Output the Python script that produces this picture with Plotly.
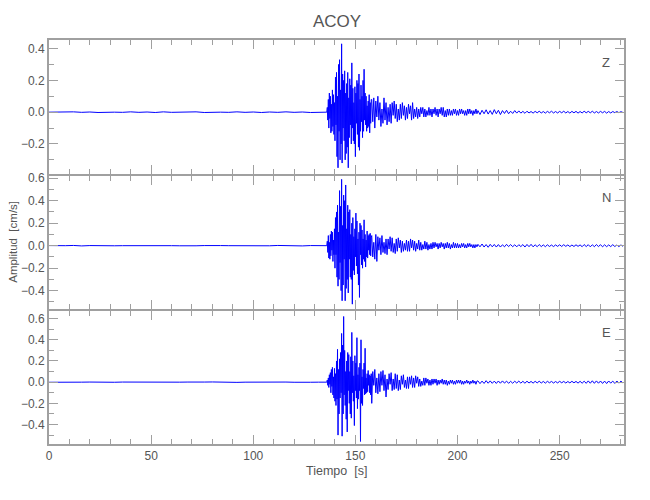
import numpy as np
import plotly.graph_objects as go

# ---------------- data ----------------
station = "ACOY"
components = ["Z", "N", "E"]

t_pre = np.arange(0, 136, 4.0)
t_a = np.arange(136, 158, 0.25)
t_b = np.arange(158, 210, 0.5)
t_c = np.arange(210, 282, 1.0)

# ---- Z component [cm/s]
Z_pre = [0.000, 0.001, -0.001, 0.002, -0.001, 0.001, -0.002, 0.001, 0.000, -0.001,
         0.002, -0.001, 0.001, -0.002, 0.002, -0.001, 0.001, -0.001, 0.002, -0.002,
         0.001, 0.000, -0.001, 0.002, -0.001, 0.001, -0.002, 0.001, -0.001, 0.002,
         -0.001, 0.001, -0.002, 0.001]
Z_a = [0.00, 0.03, -0.05, 0.08,
       -0.10, 0.12, -0.04, 0.10,
       -0.13, 0.05, -0.12, 0.14,
       -0.09, 0.11, -0.14, 0.06,
       -0.18, 0.22, -0.08, 0.25,
       -0.28, 0.10, -0.35, 0.30,
       -0.12, 0.33, -0.30, 0.14,
       -0.20, 0.43, -0.32, 0.24,
       -0.10, 0.20, -0.18, 0.26,
       -0.30, 0.12, -0.26, 0.18,
       -0.22, 0.25, -0.35, 0.09,
       -0.16, 0.21, -0.08, 0.17,
       -0.20, 0.31, -0.10, 0.15,
       -0.18, 0.06, -0.20, 0.16,
       -0.28, 0.12, -0.07, 0.20,
       -0.14, 0.18, -0.22, 0.24,
       -0.24, 0.08, -0.12, 0.17,
       -0.06, 0.10, -0.16, 0.20,
       -0.12, 0.27, -0.05, 0.12,
       -0.08, 0.10, -0.12, 0.04,
       -0.10, 0.07, -0.09, 0.11,
       -0.13, 0.06, -0.07, 0.08]
Z_b = [0.08, -0.06, 0.09, -0.10,
       0.07, -0.03, 0.10, -0.05,
       0.06, -0.09, 0.02, -0.07,
       0.09, -0.05, 0.06, -0.08,
       0.03, -0.06, 0.05, -0.07,
       0.06, -0.02, 0.07, -0.04,
       0.05, -0.06, 0.02, -0.05,
       0.05, -0.04, 0.06, -0.02,
       0.04, -0.05, 0.03, -0.04,
       0.05, -0.01, 0.04, -0.05,
       0.06, -0.04, 0.02, -0.03,
       0.03, -0.04, 0.02, -0.03,
       0.03, -0.01, 0.03, -0.03,
       0.02, -0.03, 0.01, -0.02,
       0.03, -0.02, 0.02, -0.03,
       0.02, -0.01, 0.03, -0.02,
       0.02, -0.03, 0.02, -0.01,
       0.03, -0.02, 0.03, -0.03,
       0.01, -0.03, 0.02, -0.02,
       0.02, -0.02, 0.01, -0.02,
       0.02, -0.01, 0.02, -0.02,
       0.01, -0.02, 0.02, -0.01,
       0.02, -0.01, 0.01, -0.02,
       0.01, -0.02, 0.02, -0.01,
       0.02, -0.01, 0.01, -0.02,
       0.01, -0.01, 0.02, -0.01]
Z_c = [0.010, -0.015, 0.012, -0.010, 0.015, -0.012, 0.010, -0.014, 0.016, -0.010,
       0.012, -0.015, 0.010, -0.008, 0.012, -0.010, 0.006, -0.008, 0.010, -0.006,
       0.008, -0.006, 0.005, -0.007, 0.006, -0.005, 0.004, -0.006, 0.005, -0.004,
       0.006, -0.005, 0.004, -0.006, 0.005, -0.004, 0.006, -0.005, 0.004, -0.005,
       0.005, -0.004, 0.006, -0.005, 0.004, -0.006, 0.005, -0.004, 0.005, -0.006,
       0.004, -0.005, 0.006, -0.004, 0.005, -0.004, 0.006, -0.005, 0.004, -0.005,
       0.005, -0.004, 0.005, -0.006, 0.004, -0.005, 0.004, -0.003, 0.004, -0.003,
       0.003, -0.002]

# ---- N component [cm/s]
N_pre = [0.001, -0.001, 0.000, 0.002, -0.002, 0.001, -0.001, 0.002, -0.001, 0.000,
         0.001, -0.002, 0.002, -0.001, 0.001, 0.000, -0.001, 0.002, -0.001, 0.001,
         -0.002, 0.001, 0.000, -0.001, 0.002, -0.002, 0.001, -0.001, 0.002, -0.001,
         0.001, -0.002, 0.001, 0.000]
N_a = [0.00, 0.04, -0.06, 0.09,
       -0.11, 0.03, -0.12, 0.10,
       -0.09, 0.13, -0.04, 0.12,
       -0.14, 0.05, -0.08, 0.15,
       -0.20, 0.25, -0.08, 0.30,
       -0.28, 0.36, -0.36, 0.12,
       -0.30, 0.49, -0.15, 0.35,
       -0.40, 0.59, -0.49, 0.18,
       -0.35, 0.45, -0.12, 0.40,
       -0.49, 0.54, -0.38, 0.15,
       -0.30, 0.36, -0.42, 0.30,
       -0.12, 0.32, -0.28, 0.10,
       -0.30, 0.20, -0.52, 0.25,
       -0.22, 0.08, -0.26, 0.15,
       -0.10, 0.29, -0.18, 0.22,
       -0.25, 0.06, -0.35, 0.12,
       -0.46, 0.20, -0.08, 0.18,
       -0.17, 0.14, -0.20, 0.06,
       -0.12, 0.23, -0.14, 0.10,
       -0.19, 0.05, -0.10, 0.13,
       -0.11, 0.09, -0.04, 0.10,
       -0.08, 0.11, -0.09, 0.07]
N_b = [0.09, -0.10, 0.03, -0.12,
       0.10, -0.14, 0.08, -0.04,
       0.07, -0.08, 0.09, -0.06,
       0.03, -0.07, 0.06, -0.08,
       0.06, -0.03, 0.08, -0.05,
       0.07, -0.06, 0.02, -0.07,
       0.06, -0.05, 0.07, -0.02,
       0.05, -0.06, 0.04, -0.05,
       0.02, -0.04, 0.05, -0.05,
       0.04, -0.05, 0.06, -0.02,
       0.05, -0.04, 0.04, -0.05,
       0.02, -0.03, 0.05, -0.04,
       0.03, -0.04, 0.01, -0.03,
       0.04, -0.03, 0.03, -0.04,
       0.01, -0.03, 0.02, -0.03,
       0.03, -0.02, 0.03, -0.01,
       0.02, -0.03, 0.02, -0.02,
       0.03, -0.01, 0.02, -0.03,
       0.02, -0.02, 0.03, -0.02,
       0.02, -0.03, 0.01, -0.02,
       0.03, -0.02, 0.02, -0.02,
       0.02, -0.02, 0.01, -0.02,
       0.02, -0.01, 0.02, -0.02,
       0.01, -0.02, 0.02, -0.01,
       0.02, -0.01, 0.01, -0.02,
       0.01, -0.02, 0.01, -0.01]
N_c = [0.012, -0.010, 0.015, -0.012, 0.010, -0.014, 0.012, -0.010, 0.011, -0.012,
       0.010, -0.012, 0.008, -0.010, 0.012, -0.008, 0.010, -0.009, 0.008, -0.010,
       0.009, -0.008, 0.010, -0.012, 0.011, -0.009, 0.012, -0.010, 0.008, -0.009,
       0.010, -0.008, 0.007, -0.009, 0.008, -0.007, 0.006, -0.008, 0.007, -0.006,
       0.008, -0.007, 0.009, -0.006, 0.007, -0.008, 0.006, -0.007, 0.008, -0.006,
       0.007, -0.009, 0.010, -0.008, 0.009, -0.010, 0.008, -0.009, 0.010, -0.008,
       0.009, -0.010, 0.008, -0.009, 0.007, -0.008, 0.009, -0.007, 0.006, -0.008,
       0.007, -0.006]

# ---- E component [cm/s]
E_pre = [-0.001, 0.001, 0.002, -0.001, 0.000, 0.001, -0.002, 0.002, -0.001, 0.001,
         0.000, -0.001, 0.002, -0.002, 0.001, -0.001, 0.000, 0.001, -0.002, 0.001,
         0.002, -0.001, 0.001, -0.002, 0.000, 0.001, -0.001, 0.002, -0.002, 0.001,
         -0.001, 0.002, -0.001, 0.000]
E_a = [0.00, 0.02, -0.03, 0.04,
       -0.05, 0.07, -0.02, 0.09,
       -0.10, 0.12, -0.04, 0.14,
       -0.12, 0.05, -0.15, 0.13,
       -0.18, 0.08, -0.22, 0.20,
       -0.16, 0.31, -0.50, 0.12,
       -0.30, 0.22, -0.15, 0.28,
       -0.10, 0.46, -0.51, 0.35,
       -0.30, 0.62, -0.12, 0.30,
       -0.22, 0.10, -0.35, 0.20,
       -0.47, 0.28, -0.08, 0.26,
       -0.20, 0.10, -0.30, 0.24,
       -0.34, 0.47, -0.10, 0.20,
       -0.18, 0.06, -0.41, 0.25,
       -0.08, 0.18, -0.15, 0.42,
       -0.25, 0.07, -0.16, 0.14,
       -0.08, 0.18, -0.56, 0.40,
       -0.20, 0.05, -0.22, 0.12,
       -0.06, 0.18, -0.12, 0.32,
       -0.11, 0.04, -0.10, 0.08,
       -0.09, 0.11, -0.03, 0.07,
       -0.10, 0.06, -0.12, 0.08]
E_b = [-0.20, 0.10, -0.03, 0.12,
       -0.10, 0.04, -0.11, 0.08,
       -0.09, 0.10, -0.03, 0.11,
       -0.08, 0.07, -0.14, 0.03,
       -0.07, 0.08, -0.02, 0.09,
       -0.08, 0.03, -0.07, 0.08,
       -0.06, 0.07, -0.08, 0.02,
       -0.07, 0.06, -0.02, 0.07,
       -0.05, 0.02, -0.06, 0.05,
       -0.06, 0.05, -0.02, 0.06,
       -0.05, 0.04, -0.05, 0.06,
       -0.01, 0.05, -0.04, 0.03,
       -0.04, 0.01, -0.03, 0.04,
       -0.03, 0.04, -0.01, 0.03,
       -0.03, 0.02, -0.03, 0.03,
       -0.02, 0.03, -0.01, 0.03,
       -0.03, 0.02, -0.02, 0.02,
       -0.01, 0.03, -0.02, 0.02,
       -0.02, 0.02, -0.03, 0.01,
       -0.02, 0.02, -0.01, 0.02,
       -0.02, 0.01, -0.02, 0.02,
       -0.01, 0.02, -0.01, 0.02,
       -0.02, 0.01, -0.02, 0.01,
       -0.01, 0.02, -0.01, 0.01,
       -0.02, 0.01, -0.01, 0.02,
       -0.01, 0.01, -0.02, 0.01]
E_c = [0.012, -0.014, 0.010, -0.012, 0.014, -0.010, 0.012, -0.011, 0.010, -0.012,
       0.011, -0.010, 0.012, -0.009, 0.010, -0.011, 0.008, -0.010, 0.009, -0.008,
       0.010, -0.009, 0.008, -0.010, 0.009, -0.008, 0.007, -0.009, 0.008, -0.007,
       0.009, -0.008, 0.007, -0.009, 0.008, -0.006, 0.007, -0.008, 0.006, -0.007,
       0.008, -0.006, 0.007, -0.008, 0.006, -0.007, 0.008, -0.006, 0.007, -0.009,
       0.008, -0.010, 0.009, -0.011, 0.012, -0.010, 0.013, -0.011, 0.012, -0.010,
       0.011, -0.012, 0.010, -0.013, 0.011, -0.009, 0.010, -0.012, 0.011, -0.009,
       0.010, -0.008]

# axis ranges of each panel [cm/s] and time range [s]
y_ranges = [[-0.389, 0.454], [-0.563, 0.62], [-0.584, 0.672]]
x_range = [0, 281.5]

# ---------------- figure ----------------
time = np.concatenate([t_pre, t_a, t_b, t_c])
traces = [Z_pre + Z_a + Z_b + Z_c, N_pre + N_a + N_b + N_c, E_pre + E_a + E_b + E_c]
for tr in traces:
    assert len(tr) == len(time), (len(tr), len(time))

FONT = "Liberation Sans, Arial, sans-serif"
TXT = "#555555"
AX = "#a0a0a0"

fig = go.Figure()
for i, vals in enumerate(traces):
    sfx = "" if i == 0 else str(i + 1)
    fig.add_trace(go.Scatter(x=time, y=vals, mode="lines",
                             line=dict(color="#0000ff", width=1),
                             xaxis="x" + sfx, yaxis="y" + sfx,
                             showlegend=False, hoverinfo="skip"))

# panels overlap by 2 px so that adjoining frame lines coincide
domains = [[0.6683, 1.0], [0.3342, 0.6634], [0.0, 0.3292]]
common = dict(showline=True, linecolor=AX, linewidth=2, mirror="allticks",
              ticks="inside", tickcolor=AX, tickwidth=1, ticklen=9,
              showgrid=False, zeroline=False, automargin=False,
              tickfont=dict(family=FONT, size=12, color=TXT))
layout = {}
for i in range(3):
    sfx = "" if i == 0 else str(i + 1)
    layout["xaxis" + sfx] = dict(common, domain=[0, 1], anchor="y" + sfx,
                                 range=x_range, tick0=0, dtick=50,
                                 minor=dict(ticks="inside", dtick=10, ticklen=5,
                                            tickcolor=AX, showgrid=False),
                                 showticklabels=(i == 2))
    layout["yaxis" + sfx] = dict(common, domain=domains[i], anchor="x" + sfx,
                                 range=y_ranges[i], tick0=0, dtick=0.2,
                                 tickformat=".1f",
                                 minor=dict(ticks="inside", dtick=0.1, ticklen=5,
                                            tickcolor=AX, showgrid=False))
fig.update_layout(**layout)

label_y = [0.9455, 0.611, 0.277]
annotations = []
for comp, yy in zip(components, label_y):
    annotations.append(dict(text=comp, x=0.9687, y=yy, xref="paper", yref="paper",
                            showarrow=False, xanchor="center", yanchor="middle",
                            font=dict(family=FONT, size=13, color=TXT)))
annotations.append(dict(text="Tiempo  [s]", x=0.5, y=-0.067, xref="paper", yref="paper",
                        showarrow=False, xanchor="center", yanchor="middle",
                        font=dict(family=FONT, size=12.5, color=TXT)))
annotations.append(dict(text="Amplitud  [cm/s]", x=-0.063, y=0.5, xref="paper",
                        yref="paper", showarrow=False, textangle=-90,
                        xanchor="center", yanchor="middle",
                        font=dict(family=FONT, size=11.5, color=TXT)))
annotations.append(dict(text=station, x=0.5, y=1.045, xref="paper", yref="paper",
                        showarrow=False, xanchor="center", yanchor="middle",
                        font=dict(family=FONT, size=17, color=TXT)))

# the page has an 8 px body margin, so the figure is 8 px smaller than the window
fig.update_layout(width=642, height=492, autosize=False,
                  margin=dict(l=41, r=26, t=32, b=56),
                  paper_bgcolor="white", plot_bgcolor="white",
                  annotations=annotations, showlegend=False)

fig.write_html("out.html")
